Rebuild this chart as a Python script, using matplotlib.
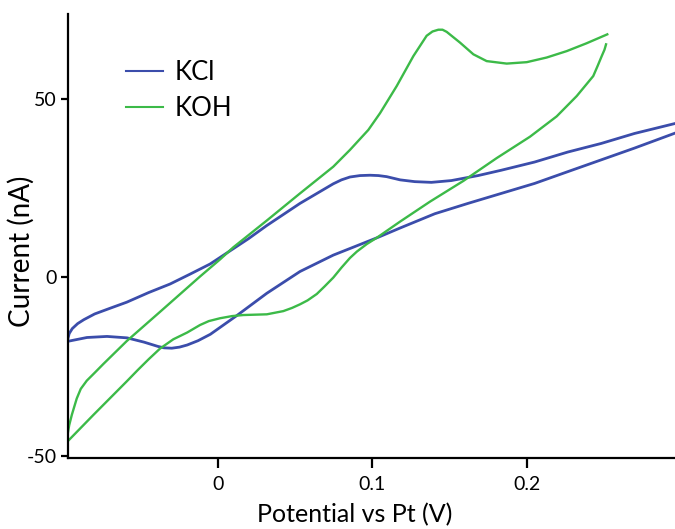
import numpy as np
import matplotlib.pyplot as plt

plt.rcParams['font.family'] = ['Lato', 'DejaVu Sans']
plt.rcParams['axes.unicode_minus'] = False

# KCl cyclic voltammogram (forward / reverse sweeps)
kcl_fwd_v = [-0.0977, -0.0965, -0.0945, -0.0910, -0.0870, -0.0800, -0.0700, -0.0592,
             -0.0450, -0.0311, -0.0180, -0.0052, 0.0099, 0.0197, 0.0316, 0.0531, 0.0747,
             0.0800, 0.0855, 0.0920, 0.0985, 0.1040, 0.1093, 0.1180, 0.1275, 0.1383,
             0.1512, 0.1685, 0.1836, 0.2052, 0.2267, 0.2483, 0.2699, 0.2962]
kcl_fwd_i = [-17.8, -15.8, -14.4, -13.0, -11.9, -10.3, -8.7, -7.0,
             -4.3, -1.9, 0.9, 3.7, 8.0, 10.8, 14.5, 20.7, 26.2,
             27.3, 28.1, 28.5, 28.6, 28.5, 28.2, 27.3, 26.8, 26.6,
             27.1, 28.5, 30.0, 32.3, 35.1, 37.5, 40.3, 43.1]
kcl_rev_v = [0.2962, 0.2699, 0.2483, 0.2267, 0.2052, 0.1836, 0.1620, 0.1405, 0.1180,
             0.1038, 0.0887, 0.0747, 0.0531, 0.0316, 0.0120, -0.0050, -0.0130, -0.0200,
             -0.0250, -0.0300, -0.0350, -0.0390, -0.0480, -0.0590, -0.0720, -0.0850,
             -0.0977]
kcl_rev_i = [40.4, 36.2, 32.9, 29.6, 26.3, 23.5, 20.7, 17.8, 13.8,
             11.2, 8.6, 6.2, 1.6, -4.5, -10.8, -16.0, -17.8, -19.0,
             -19.6, -19.9, -19.8, -19.4, -18.2, -17.0, -16.6, -16.9,
             -18.0]

# KOH cyclic voltammogram
koh_fwd_v = [-0.0977, -0.0965, -0.0948, -0.0930, -0.0916, -0.0890, -0.0851, -0.0800,
             -0.0743, -0.0592, -0.0376, -0.0117, 0.0013, 0.0099, 0.0316, 0.0531, 0.0747,
             0.0855, 0.0974, 0.1050, 0.1158, 0.1266, 0.1352, 0.1390, 0.1428, 0.1455,
             0.1482, 0.1568, 0.1655, 0.1741, 0.1871, 0.2001, 0.2130, 0.2260, 0.2389,
             0.2523]
koh_fwd_i = [-44.5, -41.5, -38.6, -36.0, -34.0, -31.3, -29.0, -26.8,
             -24.3, -17.9, -9.7, 0.2, 5.0, 8.4, 15.9, 23.5, 31.0,
             35.7, 41.3, 46.0, 53.6, 62.0, 67.7, 68.9, 69.4, 69.4,
             68.8, 65.8, 62.5, 60.6, 59.9, 60.3, 61.6, 63.4, 65.6,
             68.1]
koh_rev_v = [0.2515, 0.2505, 0.2487, 0.2460, 0.2432, 0.2325, 0.2195, 0.2022, 0.1806,
             0.1590, 0.1374, 0.1180, 0.1030, 0.0964, 0.0900, 0.0855, 0.0800, 0.0747,
             0.0690, 0.0640, 0.0580, 0.0531, 0.0480, 0.0423, 0.0316, 0.0240, 0.0164,
             0.0090, 0.0013, -0.0060, -0.0117, -0.0200, -0.0290, -0.0376, -0.0450,
             -0.0520, -0.0592, -0.0808, -0.0977]
koh_rev_i = [65.3, 63.8, 62.0, 59.2, 56.4, 50.8, 45.1, 39.4, 33.4,
             27.0, 21.2, 15.6, 11.1, 9.3, 7.2, 5.4, 2.7, -0.1,
             -2.6, -4.7, -6.5, -7.6, -8.6, -9.5, -10.4, -10.5, -10.6,
             -10.9, -11.5, -12.3, -13.4, -15.5, -17.4, -20.0, -23.0,
             -26.0, -29.2, -38.6, -46.1]

blue = '#3b4dab'
green = '#3cba48'

fig = plt.figure(figsize=(6.75, 5.29), dpi=100)
ax = fig.add_axes([0.1, 0.1348, 0.9, 0.8387])

ax.plot(kcl_fwd_v, kcl_fwd_i, color=blue, lw=2.0, label='KCl')
ax.plot(kcl_rev_v, kcl_rev_i, color=blue, lw=2.0)
ax.plot(koh_fwd_v, koh_fwd_i, color=green, lw=1.7, label='KOH')
ax.plot(koh_rev_v, koh_rev_i, color=green, lw=1.7)

ax.set_xlim(-0.0976, 0.2962)
ax.set_ylim(-50.6, 73.8)
ax.set_xticks([0, 0.1, 0.2])
ax.set_xticklabels(['0', '0.1', '0.2'])
ax.set_yticks([-50, 0, 50])

for s in ['top', 'right']:
    ax.spines[s].set_visible(False)
for s in ['left', 'bottom']:
    ax.spines[s].set_linewidth(1.6)

ax.tick_params(axis='x', length=7, width=1.6, pad=6, labelsize=14)
ax.tick_params(axis='y', length=5, width=1.6, pad=3, labelsize=14)

ax.set_xlabel('Potential vs Pt (V)', fontsize=18)
ax.set_ylabel('Current (nA)', fontsize=20)
ax.xaxis.set_label_coords(0.4733, -0.102)
ax.yaxis.set_label_coords(-0.054, 0.466)

leg = ax.legend(loc='upper left', bbox_to_anchor=(0.0965, 0.897), frameon=False,
                fontsize=18.5, handlelength=1.45, handletextpad=0.45,
                labelspacing=0.45, borderaxespad=0, borderpad=0)
for line in leg.get_lines():
    line.set_linewidth(1.5)

fig.savefig('out.png', dpi=100)
